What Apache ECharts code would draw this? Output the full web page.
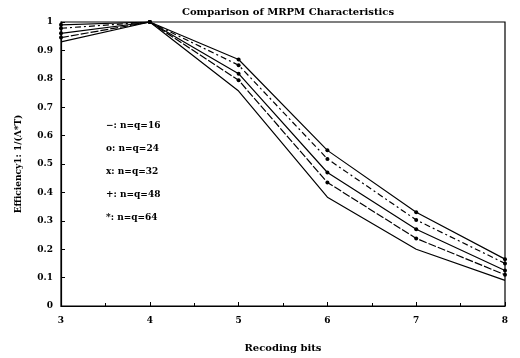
<!DOCTYPE html>
<html><head><meta charset="utf-8">
<script src="https://cdn.jsdelivr.net/npm/echarts@6/dist/echarts.min.js"></script>
<style>html,body{margin:0;padding:0;background:#fff}#c{width:520px;height:358px}</style>
</head><body><div id="c"></div>
<script>
const xValues = [3, 4, 5, 6, 7, 8];
const line1 = [0.99, 1.0, 0.868, 0.548, 0.330, 0.165];
const line2 = [0.978, 1.0, 0.848, 0.518, 0.303, 0.150];
const line3 = [0.960, 1.0, 0.818, 0.470, 0.270, 0.125];
const line4 = [0.945, 1.0, 0.795, 0.435, 0.238, 0.110];
const line5 = [0.930, 1.0, 0.757, 0.383, 0.200, 0.090];
const legendLines = ['−: n=q=16', 'o: n=q=24', 'x: n=q=32', '+: n=q=48', '*: n=q=64'];
const title = 'Comparison of MRPM Characteristics';
const xName = 'Recoding bits';
const yName = 'Efficiency1: 1/(Λ*T)';

const font = 'DejaVu Serif';
function mk(vals, dash, marker) {
  return {
    type: 'line',
    data: xValues.map((x, i) => [x, vals[i]]),
    symbol: marker ? 'circle' : 'none',
    symbolSize: 4,
    itemStyle: {color: '#000'},
    lineStyle: {color: '#000', width: 1.2, type: dash || 'solid'},
    animation: false
  };
}
const chart = echarts.init(document.getElementById('c'));
chart.setOption({
  backgroundColor: '#fff',
  title: {text: title, left: 283, textAlign: 'center', top: 2,
    textStyle: {fontFamily: font, fontWeight: 'bold', fontSize: 10, color: '#000'}},
  grid: {left: 61, right: 15, top: 22, bottom: 46, show: true, borderColor: '#000', borderWidth: 1.2},
  xAxis: {type: 'value', min: 3, max: 8, interval: 1,
    name: xName, nameLocation: 'middle', nameGap: 37,
    nameTextStyle: {fontFamily: font, fontWeight: 'bold', fontSize: 10, color: '#000'},
    axisLine: {lineStyle: {color: '#000', width: 1.2}},
    axisTick: {inside: true, length: 4, lineStyle: {color: '#000'}},
    minorTick: {show: true, splitNumber: 2, length: 3, lineStyle: {color: '#000'}},
    splitLine: {show: false},
    axisLabel: {fontFamily: font, fontWeight: 'bold', fontSize: 9, color: '#000', margin: 10}},
  yAxis: {type: 'value', min: 0, max: 1, interval: 0.1,
    name: yName, nameLocation: 'middle', nameGap: 38, nameRotate: 90,
    nameTextStyle: {fontFamily: font, fontWeight: 'bold', fontSize: 9, color: '#000'},
    axisLine: {lineStyle: {color: '#000', width: 1.2}},
    axisTick: {inside: true, length: 4, lineStyle: {color: '#000'}},
    splitLine: {show: false},
    axisLabel: {fontFamily: font, fontWeight: 'bold', fontSize: 9, color: '#000', margin: 8,
      formatter: v => String(Math.round(v * 10) / 10)}},
  graphic: legendLines.map((t, i) => ({
    type: 'text', left: 106, top: 121 + i * 23,
    style: {text: t, font: 'bold 9px "DejaVu Serif"', fill: '#000'}
  })),
  series: [
    mk(line1, 'solid', true),
    mk(line2, [6, 3, 2, 3], true),
    mk(line3, 'solid', true),
    mk(line4, [8, 2], true),
    mk(line5, 'solid', false)
  ]
});
</script></body></html>
